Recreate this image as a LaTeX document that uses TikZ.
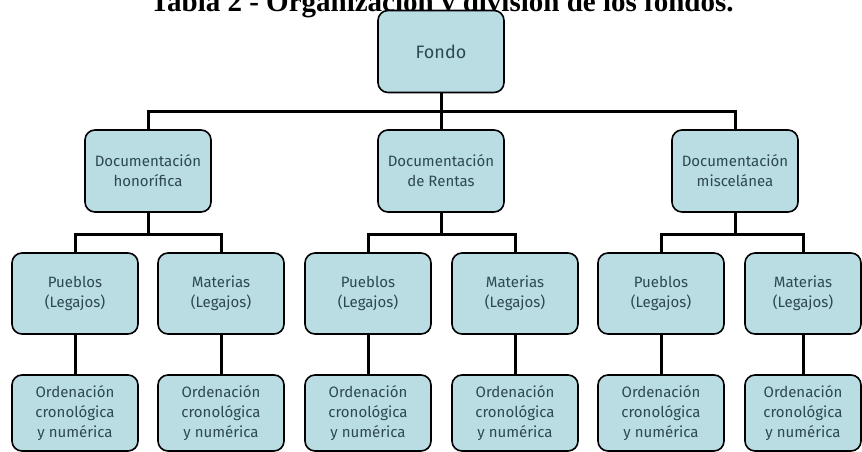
\documentclass[tikz,border=0pt]{standalone}
\usepackage{fontspec}
\setmainfont{Liberation Serif}
\newfontfamily\boxfont{Fira Sans}
\definecolor{boxfill}{RGB}{185,221,226}
\definecolor{boxtext}{RGB}{45,72,80}
\begin{document}
\begin{tikzpicture}[x=1pt,y=-1pt,
  box/.style={draw=black, line width=1.6pt, fill=boxfill, rounded corners=10pt,
    align=center, font=\boxfont\fontsize{15}{20}\selectfont, text=boxtext,
    inner sep=0pt, minimum width=126pt, minimum height=81pt},
  leaf/.style={box, minimum height=76pt},
  conn/.style={line width=3pt, draw=black}]
\useasboundingbox (0,0) rectangle (862,452);
\clip (0,0) rectangle (862,452);
\fill[white] (0,0) rectangle (862,452);
% title
\node[font=\bfseries\fontsize{29}{30}\selectfont, anchor=base, inner sep=0pt] (title) at (442,12) {Tabla 2 - Organización y división de los fondos.};
% coordinates of bars
\coordinate (bar1) at (0,111);
\coordinate (bar2) at (0,234);
% nodes
\node[box, minimum height=82pt, font=\boxfont\fontsize{18}{20}\selectfont] (fondo) at (441,51.5) {Fondo};
\node[box, minimum height=82pt] (hon) at (148,171) {Documentación\\honorífica};
\node[box, minimum height=82pt] (ren) at (441,171) {Documentación\\de Rentas};
\node[box, minimum height=82pt] (mis) at (735,171) {Documentación\\miscelánea};
\node[box] (p1) at (75,293.5) {Pueblos\\(Legajos)};
\node[box] (m1) at (221,293.5) {Materias\\(Legajos)};
\node[box] (p2) at (368,293.5) {Pueblos\\(Legajos)};
\node[box] (m2) at (515,293.5) {Materias\\(Legajos)};
\node[box] (p3) at (661,293.5) {Pueblos\\(Legajos)};
\node[box, minimum width=116pt] (m3) at (803,293.5) {Materias\\(Legajos)};
\node[leaf] (o1) at (75,413) {Ordenación\\cronológica\\y numérica};
\node[leaf] (o2) at (221,413) {Ordenación\\cronológica\\y numérica};
\node[leaf] (o3) at (368,413) {Ordenación\\cronológica\\y numérica};
\node[leaf] (o4) at (515,413) {Ordenación\\cronológica\\y numérica};
\node[leaf] (o5) at (661,413) {Ordenación\\cronológica\\y numérica};
\node[leaf, minimum width=116pt] (o6) at (803,413) {Ordenación\\cronológica\\y numérica};
% connectors
\draw[conn] (fondo.south) -- (fondo.south |- bar1);
\draw[conn] (hon.north) -- (hon.north |- bar1) -- (mis.north |- bar1) -- (mis.north);
\draw[conn] (ren.north) -- (ren.north |- bar1);
\draw[conn] (hon.south) -- (hon.south |- bar2);
\draw[conn] (p1.north) -- (p1.north |- bar2) -- (m1.north |- bar2) -- (m1.north);
\draw[conn] (ren.south) -- (ren.south |- bar2);
\draw[conn] (p2.north) -- (p2.north |- bar2) -- (m2.north |- bar2) -- (m2.north);
\draw[conn] (mis.south) -- (mis.south |- bar2);
\draw[conn] (p3.north) -- (p3.north |- bar2) -- (m3.north |- bar2) -- (m3.north);
\draw[conn] (p1.south) -- (o1.north);
\draw[conn] (m1.south) -- (o2.north);
\draw[conn] (p2.south) -- (o3.north);
\draw[conn] (m2.south) -- (o4.north);
\draw[conn] (p3.south) -- (o5.north);
\draw[conn] (m3.south) -- (o6.north);
\end{tikzpicture}
\end{document}
